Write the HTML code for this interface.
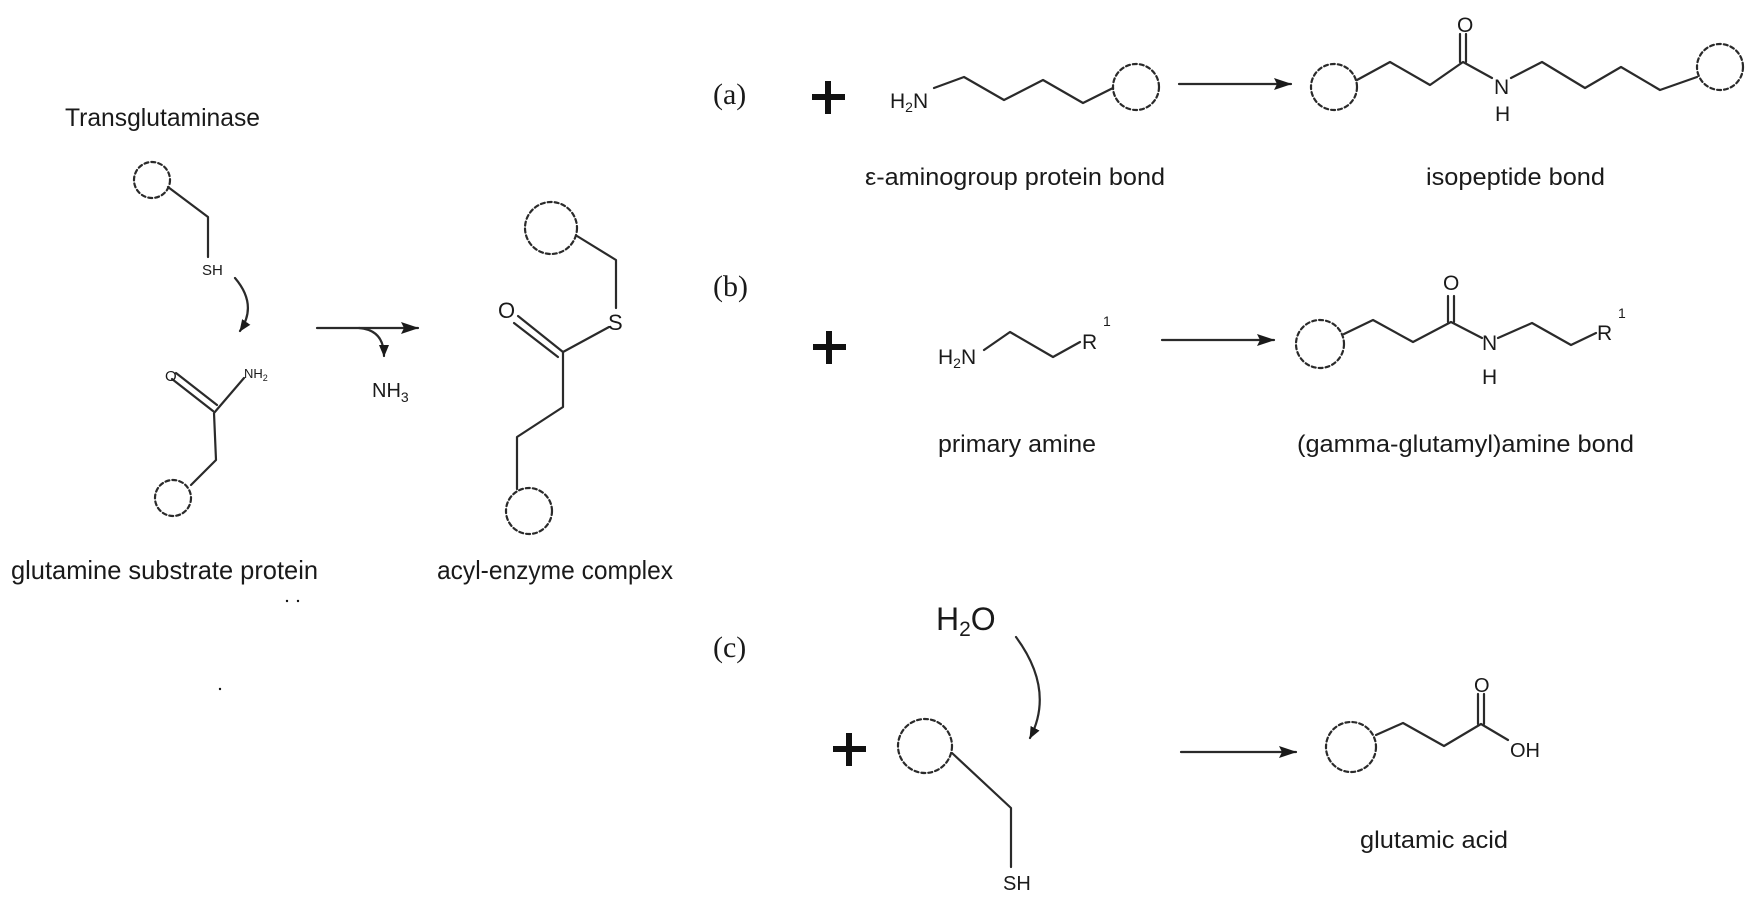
<!DOCTYPE html>
<html><head><meta charset="utf-8"><style>
html,body{margin:0;padding:0;background:#fff;}
svg{display:block;}
text{font-family:"Liberation Sans",sans-serif;fill:#1a1a1a;}
.serif{font-family:"Liberation Serif",serif;}
</style></head><body>
<svg width="1750" height="905" viewBox="0 0 1750 905" xmlns="http://www.w3.org/2000/svg">
<defs>
<marker id="ah" markerWidth="12" markerHeight="10" refX="11" refY="5" orient="auto" markerUnits="userSpaceOnUse">
<path d="M0,0 L12,5 L0,10 Z" fill="#1a1a1a"/></marker>
<marker id="ahb" markerWidth="18" markerHeight="12" refX="17" refY="6" orient="auto" markerUnits="userSpaceOnUse">
<path d="M0,0 L18,6 L0,12 L3,6 Z" fill="#1a1a1a"/></marker>
</defs>
<g fill="none" stroke="#2a2a2a" stroke-width="2.2" stroke-linejoin="round" stroke-linecap="round">
<circle cx="152" cy="180" r="18" stroke-dasharray="4 3"/>
<polyline points="168,187 208,217 208,257"/>
<path d="M235,278 Q258,305 240,331" marker-end="url(#ah)"/>
<line x1="172" y1="379" x2="213" y2="411"/>
<line x1="176" y1="373" x2="217" y2="405"/>
<polyline points="244,378 214,413 216,460 191,485"/>
<circle cx="173" cy="498" r="18" stroke-dasharray="4 3"/>
<line x1="317" y1="328" x2="418" y2="328" marker-end="url(#ahb)"/>
<path d="M359,328 Q384,330 384,356" marker-end="url(#ah)"/>
<circle cx="551" cy="228" r="26" stroke-dasharray="4 3"/>
<polyline points="577,236 616,260 616,308"/>
<line x1="609" y1="327" x2="563" y2="352"/>
<line x1="518" y1="316" x2="563" y2="352"/>
<line x1="514" y1="323" x2="558" y2="357"/>
<polyline points="563,352 563,407 517,437 517,489"/>
<circle cx="529" cy="511" r="23" stroke-dasharray="4 3"/>
<polyline points="934,88 964,77 1004,100 1043,80 1083,103 1113,88"/>
<circle cx="1136" cy="87" r="23" stroke-dasharray="4 3"/>
<line x1="1179" y1="84" x2="1291" y2="84" marker-end="url(#ahb)"/>
<circle cx="1334" cy="87" r="23" stroke-dasharray="4 3"/>
<polyline points="1357,80 1390,62 1430,85 1463,62 1492,78"/>
<line x1="1460" y1="34" x2="1460" y2="62"/>
<line x1="1466" y1="34" x2="1466" y2="62"/>
<polyline points="1511,78 1542,62 1585,88 1621,67 1660,90 1697,77"/>
<circle cx="1720" cy="67" r="23" stroke-dasharray="4 3"/>
<polyline points="984,350 1010,332 1053,357 1080,342"/>
<line x1="1162" y1="340" x2="1274" y2="340" marker-end="url(#ahb)"/>
<circle cx="1320" cy="344" r="24" stroke-dasharray="4 3"/>
<polyline points="1344,334 1373,320 1413,342 1451,322 1482,338"/>
<line x1="1448" y1="296" x2="1448" y2="322"/>
<line x1="1454" y1="296" x2="1454" y2="322"/>
<polyline points="1498,338 1532,323 1571,345 1596,333"/>
<path d="M1016,637 Q1055,690 1030,738" marker-end="url(#ah)"/>
<circle cx="925" cy="746" r="27" stroke-dasharray="4 3"/>
<polyline points="952,753 1011,808 1011,867"/>
<line x1="1181" y1="752" x2="1296" y2="752" marker-end="url(#ahb)"/>
<circle cx="1351" cy="747" r="25" stroke-dasharray="4 3"/>
<polyline points="1376,735 1403,723 1444,746 1481,724 1508,740"/>
<line x1="1478" y1="694" x2="1478" y2="724"/>
<line x1="1484" y1="694" x2="1484" y2="724"/>
</g>
<g fill="#111">
<rect x="812" y="94" width="33" height="6"/><rect x="825" y="81" width="6" height="33"/>
<rect x="813" y="344" width="33" height="6"/><rect x="826" y="331" width="6" height="33"/>
<rect x="833" y="746" width="33" height="6"/><rect x="846" y="733" width="6" height="33"/>
<circle cx="287" cy="601" r="1.2"/><circle cx="298" cy="601" r="1.2"/><circle cx="220" cy="689" r="1.2"/>
</g>
<text x="65" y="126" font-size="25" textLength="195" lengthAdjust="spacingAndGlyphs">Transglutaminase</text>
<text x="202" y="275" font-size="15">SH</text>
<text x="165" y="381" font-size="15">O</text>
<text x="244" y="378" font-size="13">NH<tspan font-size="9" dy="3">2</tspan></text>
<text x="372" y="397" font-size="20">NH<tspan font-size="14" dy="5">3</tspan></text>
<text x="498" y="318" font-size="22">O</text>
<text x="608" y="330" font-size="22">S</text>
<text x="11" y="579" font-size="26" textLength="307" lengthAdjust="spacingAndGlyphs">glutamine substrate protein</text>
<text x="437" y="579" font-size="26" textLength="236" lengthAdjust="spacingAndGlyphs">acyl-enzyme complex</text>
<text class="serif" x="713" y="104" font-size="30">(a)</text>
<text class="serif" x="713" y="296" font-size="30">(b)</text>
<text class="serif" x="713" y="657" font-size="30">(c)</text>
<text x="890" y="108" font-size="21">H<tspan font-size="14" dy="4">2</tspan><tspan dy="-4">N</tspan></text>
<text x="1457" y="32" font-size="21">O</text>
<text x="1494" y="94" font-size="21">N</text>
<text x="1495" y="121" font-size="21">H</text>
<text x="865" y="185" font-size="24" textLength="300" lengthAdjust="spacingAndGlyphs">ε-aminogroup protein bond</text>
<text x="1426" y="185" font-size="24" textLength="179" lengthAdjust="spacingAndGlyphs">isopeptide bond</text>
<text x="938" y="364" font-size="21">H<tspan font-size="14" dy="4">2</tspan><tspan dy="-4">N</tspan></text>
<text x="1082" y="349" font-size="21">R</text>
<text x="1103" y="326" font-size="14">1</text>
<text x="1443" y="290" font-size="21">O</text>
<text x="1482" y="350" font-size="21">N</text>
<text x="1482" y="384" font-size="21">H</text>
<text x="1597" y="340" font-size="21">R</text>
<text x="1618" y="318" font-size="14">1</text>
<text x="938" y="452" font-size="24" textLength="158" lengthAdjust="spacingAndGlyphs">primary amine</text>
<text x="1297" y="452" font-size="24" textLength="337" lengthAdjust="spacingAndGlyphs">(gamma-glutamyl)amine bond</text>
<text x="936" y="630" font-size="32">H<tspan font-size="21" dy="6">2</tspan><tspan dy="-6">O</tspan></text>
<text x="1003" y="890" font-size="20">SH</text>
<text x="1474" y="692" font-size="20">O</text>
<text x="1510" y="757" font-size="20">OH</text>
<text x="1360" y="848" font-size="24" textLength="148" lengthAdjust="spacingAndGlyphs">glutamic acid</text>
</svg>
</body></html>
